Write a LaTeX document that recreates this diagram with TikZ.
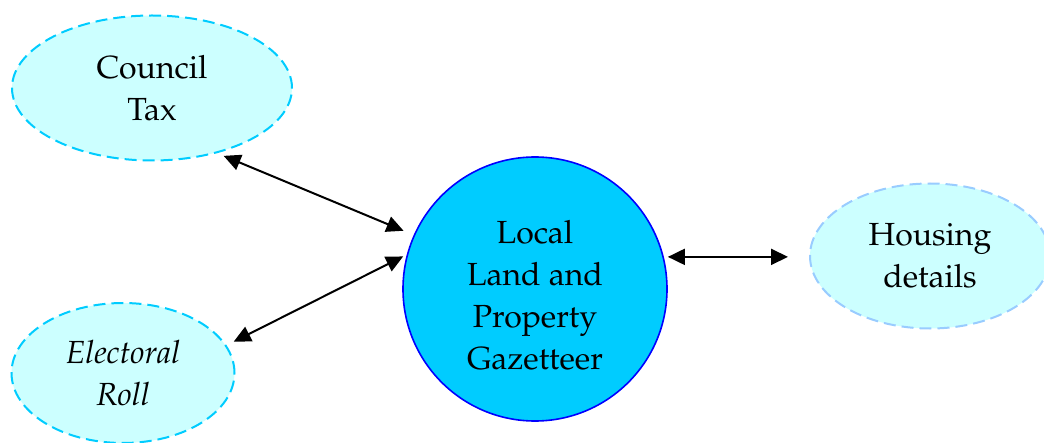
\documentclass[tikz,border=0pt]{standalone}
\usepackage[T1]{fontenc}
\usepackage{mathpazo}
\usepackage{tikz}
\usetikzlibrary{positioning, shapes, arrows.meta}
\definecolor{palecyan}{RGB}{204,255,255}
\definecolor{skycyan}{RGB}{0,204,255}
\definecolor{paleblue}{RGB}{153,204,255}
\tikzset{>={Triangle[length=8.5pt,width=8pt]}}
\tikzset{
    system/.style = {ellipse, draw=skycyan, fill=palecyan, line width=1pt,
                        dash pattern=on 6pt off 3pt, align=center, inner sep=0pt},
    gazetteer/.style = {circle, draw=blue, fill=skycyan, line width=0.8pt,
                        minimum size=132pt, align=center, inner sep=0pt},
    link/.style = {<->, line width=1pt}
}
\begin{document}
\begin{tikzpicture}[x=0.5pt,y=-0.5pt]
			\tikzstyle{every node}=[font=\fontsize{16}{21}\selectfont]
			\useasboundingbox (0,0) rectangle (1044,443);
			\node (llpg) [gazetteer] at (535,289) {\rule{0pt}{18pt}Local\\Land and\\Property\\Gazetteer};
			\node (ct) [system, minimum width=140pt, minimum height=72.5pt] at (152,88) {Council\\Tax};
			\node (er) [system, minimum width=111.5pt, minimum height=70pt] at (123,373) {\itshape Electoral\\\itshape Roll};
			\node (hd) [system, draw=paleblue, minimum width=120pt, minimum height=72.5pt] at (930,256) {Housing\\details};
			\draw [link, shorten <=3.5pt, shorten >=5.5pt] (ct.-45) to (llpg.156.5);
			\draw [link, shorten <=4pt, shorten >=2pt] (er.15) to (llpg.165);
			\draw [link, shorten <=2pt, shorten >=10.5pt] (llpg.14.5) to (llpg.14.5 -| hd.west);
		\end{tikzpicture}
\end{document}
